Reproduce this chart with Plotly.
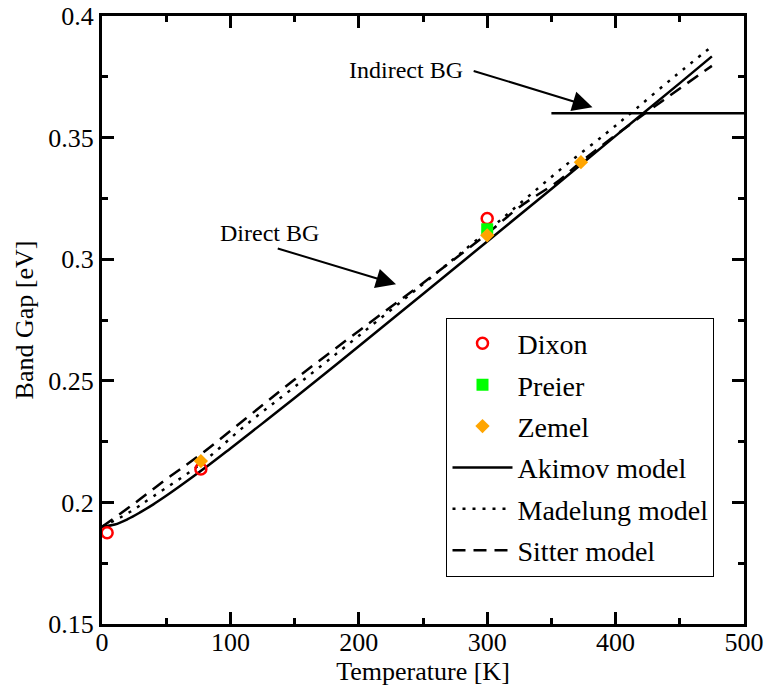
import plotly.graph_objects as go

# ---- data ----
dixon_T = [4, 77, 300]
dixon_E = [0.1875, 0.2137, 0.3167]
preier_T = [300]
preier_E = [0.3123]
zemel_T = [77, 300, 373]
zemel_E = [0.2170, 0.3098, 0.3399]

akimov_T = [0, 10, 20, 30, 40, 50, 60, 80, 100, 125, 150, 175, 200, 250, 300, 350, 400, 450, 475]
akimov_E = [0.1900, 0.1909, 0.1931, 0.1960, 0.1992, 0.2027, 0.2064, 0.2141, 0.2222, 0.2325, 0.2429, 0.2535,
            0.2642, 0.2857, 0.3073, 0.3289, 0.3507, 0.3724, 0.3834]

madelung_T = [0, 20, 40, 76, 112, 150, 200, 263, 300, 330, 361, 393, 416, 447, 475]
madelung_E = [0.1900, 0.1955, 0.2025, 0.2155, 0.2318, 0.2475, 0.2685, 0.2954, 0.3115, 0.3249, 0.3386, 0.3519,
              0.3619, 0.3756, 0.3875]

sitter_T = [0, 25, 50, 76, 112, 150, 200, 258, 300, 325, 356, 372, 400, 437, 475]
sitter_E = [0.1900, 0.1995, 0.2095, 0.2194, 0.2345, 0.2505, 0.2705, 0.2934, 0.3105, 0.3214, 0.3324, 0.3396,
            0.3510, 0.3653, 0.3795]

indirect_T = [350, 500]
indirect_E = [0.360, 0.360]

FONT = "Liberation Serif"

fig = go.Figure()
fig.add_trace(go.Scatter(x=akimov_T, y=akimov_E, mode="lines", name="Akimov model", legendrank=4, legendgroup="d",
                         line=dict(color="black", width=2.5, shape="spline")))
fig.add_trace(go.Scatter(x=madelung_T, y=madelung_E, mode="lines", name="Madelung model", legendrank=5, legendgroup="e",
                         line=dict(color="black", width=2.5, dash="3px,7px", shape="spline")))
fig.add_trace(go.Scatter(x=sitter_T, y=sitter_E, mode="lines", name="Sitter model", legendrank=6, legendgroup="f",
                         line=dict(color="black", width=2.5, dash="13px,8px", shape="spline")))
fig.add_trace(go.Scatter(x=indirect_T, y=indirect_E, mode="lines", showlegend=False,
                         line=dict(color="black", width=2.5)))
fig.add_trace(go.Scatter(x=dixon_T, y=dixon_E, mode="markers", name="Dixon", legendrank=1, legendgroup="a",
                         marker=dict(symbol="circle-open", size=11, color="#ff0000", line=dict(width=2.5, color="#ff0000"))))
fig.add_trace(go.Scatter(x=preier_T, y=preier_E, mode="markers", name="Preier", legendrank=2, legendgroup="b",
                         marker=dict(symbol="square", size=12, color="#00ff00")))
fig.add_trace(go.Scatter(x=zemel_T, y=zemel_E, mode="markers", name="Zemel", legendrank=3, legendgroup="c",
                         marker=dict(symbol="diamond", size=11, color="#ffa500")))

axis_common = dict(showline=True, linewidth=3, linecolor="black", mirror="allticks",
                   ticks="inside", ticklen=12, tickwidth=3, tickcolor="black",
                   showgrid=False, zeroline=False, automargin=False,
                   tickfont=dict(family=FONT, size=26, color="black"))

fig.update_xaxes(range=[0, 500], dtick=100, tick0=0, ticklabelstandoff=-7,
                 minor=dict(ticks="inside", ticklen=6, tickwidth=3, dtick=50, tickcolor="black", showgrid=False),
                 title=dict(text="Temperature [K]", font=dict(family=FONT, size=26, color="black"), standoff=0),
                 **axis_common)
fig.update_yaxes(range=[0.15, 0.4], dtick=0.05, tick0=0.15,
                 minor=dict(ticks="inside", ticklen=6, tickwidth=3, dtick=0.025, tickcolor="black", showgrid=False),
                 title=dict(text="Band Gap [eV]", font=dict(family=FONT, size=26, color="black"), standoff=8),
                 **axis_common)

# annotations
fig.add_annotation(x=236.4, y=0.3776, text="Indirect BG", showarrow=False,
                   font=dict(family=FONT, size=24, color="black"))
fig.add_annotation(x=382, y=0.3625, ax=288.3, ay=0.3776, axref="x", ayref="y", text="",
                   showarrow=True, arrowhead=2, arrowsize=2.0, arrowwidth=2, arrowcolor="black")
fig.add_annotation(x=130.5, y=0.3106, text="Direct BG", showarrow=False,
                   font=dict(family=FONT, size=24, color="black"))
fig.add_annotation(x=229, y=0.2897, ax=135.7, ay=0.3046, axref="x", ayref="y", text="",
                   showarrow=True, arrowhead=2, arrowsize=2.0, arrowwidth=2, arrowcolor="black")

fig.update_layout(
    width=768, height=686,
    margin=dict(l=102, r=24, t=16, b=62),
    plot_bgcolor="white", paper_bgcolor="white",
    font=dict(family=FONT, color="black"),
    legend=dict(x=0.5366, y=0.504, xanchor="left", yanchor="top",
                bgcolor="white", bordercolor="black", borderwidth=1,
                font=dict(family=FONT, size=28, color="black"),
                tracegroupgap=2, itemwidth=60, traceorder="grouped"),
)

fig.write_html("out.html")
